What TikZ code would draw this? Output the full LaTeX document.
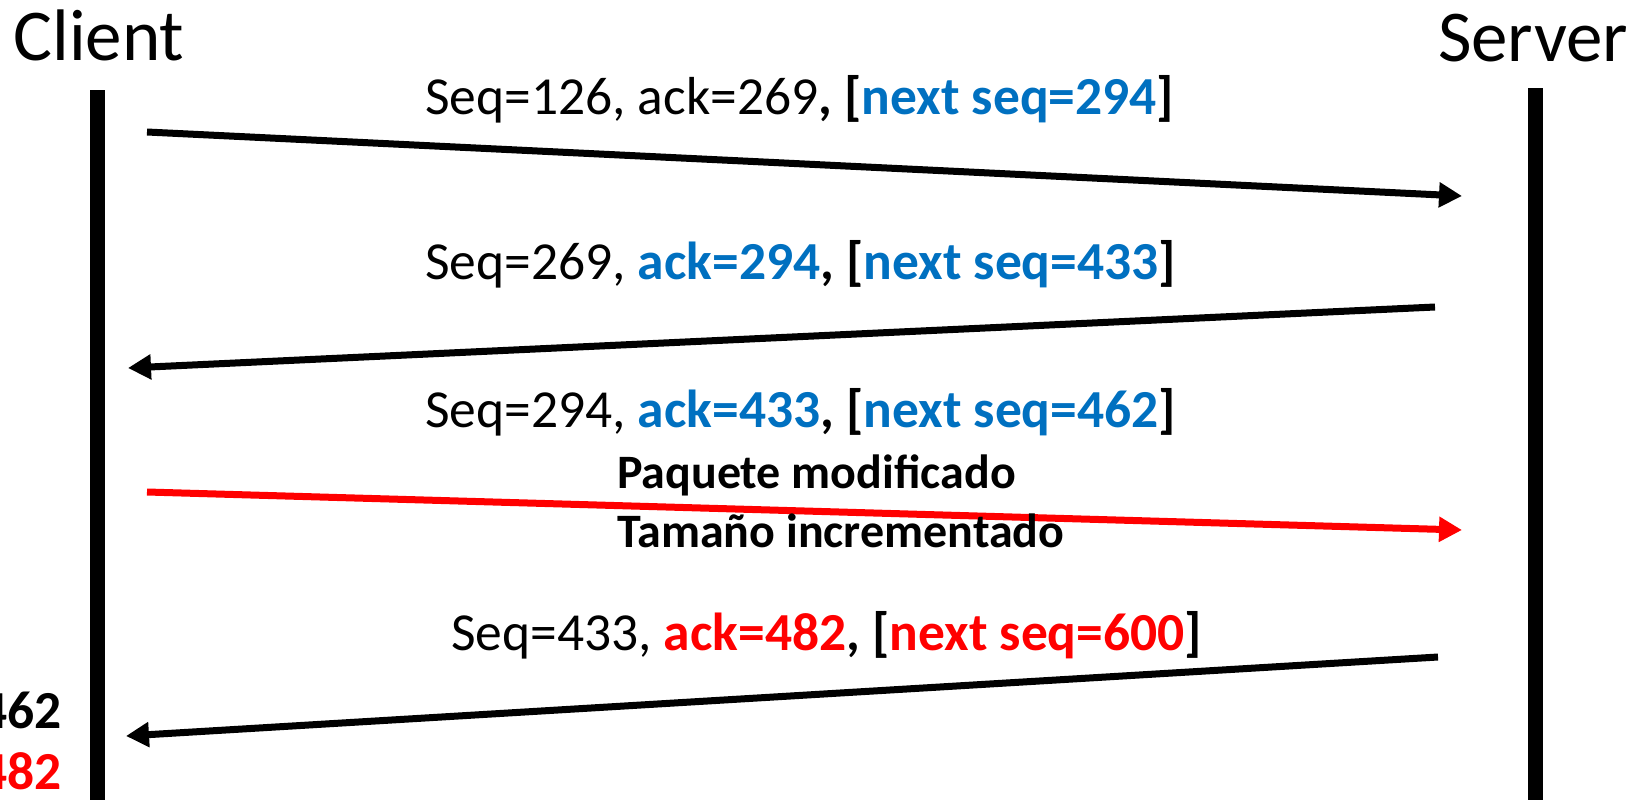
\documentclass[tikz,border=0pt]{standalone}
\usepackage{fontspec}
\setmainfont{Carlito}
\usetikzlibrary{arrows.meta}
\definecolor{seqblue}{RGB}{0,112,192}
\definecolor{seqred}{RGB}{255,0,0}

\begin{document}
\begin{tikzpicture}[x=1pt,y=-1pt,
  lifeline/.style={line width=15pt},
  msg/.style={line width=7pt,-{Triangle[length=23pt,width=24pt]}},
  badmsg/.style={msg,draw=seqred},
  host/.style={anchor=base,inner sep=0pt,font=\fontsize{73}{80}\selectfont},
  seqtext/.style={anchor=base west,inner sep=0pt,font=\fontsize{53.5}{60}\selectfont},
  note/.style={anchor=base west,inner sep=0pt,font=\fontsize{48}{54}\selectfont\bfseries},
  sidetext/.style={anchor=base east,inner sep=0pt,font=\fontsize{53.5}{60}\selectfont\bfseries}]
\useasboundingbox (0,0) rectangle (1652,800);

% hosts and their lifelines
\node[host] (client) at (99,60) {Client};
\node[host] (server) at (1533,62) {Server};
\coordinate (cTop) at (97,90);
\coordinate (cBot) at (97,810);
\coordinate (sTop) at (1535,88);
\coordinate (sBot) at (1535,810);
\draw[lifeline] (cTop) -- (cBot);
\draw[lifeline] (sTop) -- (sBot);

% message end points
\coordinate (m1a) at (147,132);  \coordinate (m1b) at (1462,196);
\coordinate (m2a) at (1435,307); \coordinate (m2b) at (128,368);
\coordinate (m3a) at (147,492);  \coordinate (m3b) at (1462,530);
\coordinate (m4a) at (1438,657); \coordinate (m4b) at (126,736);

\draw[msg] (m1a) -- (m1b);
\draw[msg] (m2a) -- (m2b);
\draw[badmsg] (m3a) -- (m3b);
\draw[msg] (m4a) -- (m4b);

% segment labels
\node[seqtext] (t1) at (425,114) {Seq=126, ack=269\textbf{, [\textcolor{seqblue}{next seq=294}]}};
\node[seqtext] (t2) at (425,279) {Seq=269, \textbf{\textcolor{seqblue}{ack=294}, [\textcolor{seqblue}{next seq=433}]}};
\node[seqtext] (t3) at (425,427) {Seq=294, \textbf{\textcolor{seqblue}{ack=433}, [\textcolor{seqblue}{next seq=462}]}};
\node[note] (n1) at (617,488) {Paquete modificado};
\node[note] (n2) at (617,547) {Tamaño incrementado};
\node[seqtext] (t4) at (451,650) {Seq=433, \textbf{\textcolor{seqred}{ack=482}, [\textcolor{seqred}{next seq=600}]}};

% client-side values
\node[sidetext] (v1) at (62,728) {462};
\node[sidetext,text=seqred] (v2) at (62,789) {482};
\end{tikzpicture}
\end{document}
